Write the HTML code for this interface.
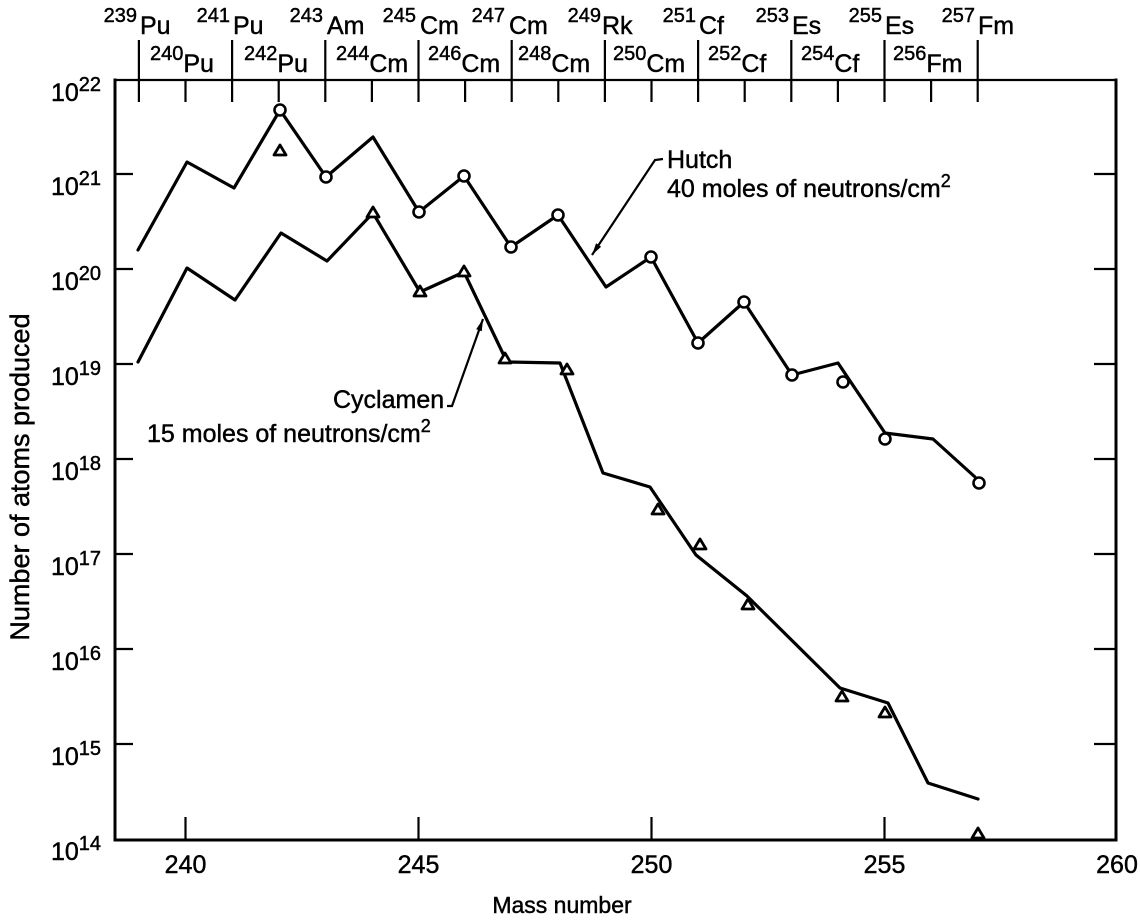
<!DOCTYPE html>
<html><head><meta charset="utf-8"><style>
html,body{margin:0;padding:0;background:#fff}
svg{display:block}
text{font-family:"Liberation Sans",Arial,sans-serif;fill:#000;stroke:#000;stroke-width:0.45px}
</style></head><body>
<svg width="1140" height="923" viewBox="0 0 1140 923" xmlns="http://www.w3.org/2000/svg">
<rect width="1140" height="923" fill="#fff"/>
<!-- axes -->
<g stroke="#000" fill="none" stroke-linecap="square">
<line x1="115" y1="80" x2="1116" y2="80" stroke-width="2.2"/>
<line x1="115" y1="80" x2="115" y2="840" stroke-width="3"/>
<line x1="115" y1="840" x2="1116" y2="840" stroke-width="3"/>
<line x1="1116" y1="80" x2="1116" y2="840" stroke-width="3"/>
</g>
<!-- top ticks and separators -->
<g stroke="#000" stroke-width="2.2">
<line x1="138.9" y1="40" x2="138.9" y2="102"/>
<line x1="185.5" y1="80" x2="185.5" y2="102"/>
<line x1="232.1" y1="40" x2="232.1" y2="102"/>
<line x1="278.7" y1="80" x2="278.7" y2="102"/>
<line x1="325.3" y1="40" x2="325.3" y2="102"/>
<line x1="371.9" y1="80" x2="371.9" y2="102"/>
<line x1="418.5" y1="40" x2="418.5" y2="102"/>
<line x1="465.1" y1="80" x2="465.1" y2="102"/>
<line x1="511.7" y1="40" x2="511.7" y2="102"/>
<line x1="558.3" y1="80" x2="558.3" y2="102"/>
<line x1="604.9" y1="40" x2="604.9" y2="102"/>
<line x1="651.5" y1="80" x2="651.5" y2="102"/>
<line x1="698.1" y1="40" x2="698.1" y2="102"/>
<line x1="744.7" y1="80" x2="744.7" y2="102"/>
<line x1="791.3" y1="40" x2="791.3" y2="102"/>
<line x1="837.9" y1="80" x2="837.9" y2="102"/>
<line x1="884.5" y1="40" x2="884.5" y2="102"/>
<line x1="931.1" y1="80" x2="931.1" y2="102"/>
<line x1="977.7" y1="40" x2="977.7" y2="102"/>
</g>
<!-- left/right decade ticks -->
<g stroke="#000" stroke-width="2.2">
<line x1="115" y1="174" x2="133" y2="174"/><line x1="1094" y1="174" x2="1116" y2="174"/>
<line x1="115" y1="269" x2="133" y2="269"/><line x1="1094" y1="269" x2="1116" y2="269"/>
<line x1="115" y1="364" x2="133" y2="364"/><line x1="1094" y1="364" x2="1116" y2="364"/>
<line x1="115" y1="459" x2="133" y2="459"/><line x1="1094" y1="459" x2="1116" y2="459"/>
<line x1="115" y1="554" x2="133" y2="554"/><line x1="1094" y1="554" x2="1116" y2="554"/>
<line x1="115" y1="649" x2="133" y2="649"/><line x1="1094" y1="649" x2="1116" y2="649"/>
<line x1="115" y1="744" x2="133" y2="744"/><line x1="1094" y1="744" x2="1116" y2="744"/>
</g>
<!-- bottom ticks -->
<g stroke="#000" stroke-width="2.2">
<line x1="185.5" y1="840" x2="185.5" y2="817"/>
<line x1="418.5" y1="840" x2="418.5" y2="817"/>
<line x1="651.5" y1="840" x2="651.5" y2="817"/>
<line x1="884.5" y1="840" x2="884.5" y2="817"/>
</g>
<!-- y tick labels -->
<g font-size="25" text-anchor="end">
<text x="101" y="101">10<tspan font-size="20" dy="-10">22</tspan></text>
<text x="101" y="195">10<tspan font-size="20" dy="-10">21</tspan></text>
<text x="101" y="290">10<tspan font-size="20" dy="-10">20</tspan></text>
<text x="101" y="385">10<tspan font-size="20" dy="-10">19</tspan></text>
<text x="101" y="480">10<tspan font-size="20" dy="-10">18</tspan></text>
<text x="101" y="575">10<tspan font-size="20" dy="-10">17</tspan></text>
<text x="101" y="670">10<tspan font-size="20" dy="-10">16</tspan></text>
<text x="101" y="765">10<tspan font-size="20" dy="-10">15</tspan></text>
<text x="101" y="860">10<tspan font-size="20" dy="-10">14</tspan></text>
</g>
<!-- x tick labels -->
<g font-size="25" text-anchor="middle">
<text x="185.5" y="873">240</text>
<text x="418.5" y="873">245</text>
<text x="651.5" y="873">250</text>
<text x="884.5" y="873">255</text>
<text x="1117" y="873">260</text>
</g>
<text x="562" y="913" font-size="23" text-anchor="middle">Mass number</text>
<text transform="translate(29,477) rotate(-90)" font-size="27" text-anchor="middle">Number of atoms produced</text>
<!-- top labels row 1 (odd) -->
<g font-size="20" text-anchor="end">
<text x="137" y="22">239</text>
<text x="230" y="22">241</text>
<text x="323" y="22">243</text>
<text x="416" y="22">245</text>
<text x="505" y="22">247</text>
<text x="601" y="22">249</text>
<text x="696" y="22">251</text>
<text x="789" y="22">253</text>
<text x="882" y="22">255</text>
<text x="975" y="22">257</text>
</g>
<g font-size="25">
<text x="140" y="34">Pu</text>
<text x="233" y="34">Pu</text>
<text x="327" y="34">Am</text>
<text x="420" y="34">Cm</text>
<text x="509" y="34">Cm</text>
<text x="602" y="34">Rk</text>
<text x="699" y="34">Cf</text>
<text x="792" y="34">Es</text>
<text x="885" y="34">Es</text>
<text x="978" y="34">Fm</text>
</g>
<!-- top labels row 2 (even) -->
<g font-size="20">
<text x="150" y="60">240<tspan font-size="25" dy="12">Pu</tspan></text>
<text x="244" y="60">242<tspan font-size="25" dy="12">Pu</tspan></text>
<text x="336" y="60">244<tspan font-size="25" dy="12">Cm</tspan></text>
<text x="428" y="60">246<tspan font-size="25" dy="12">Cm</tspan></text>
<text x="518" y="60">248<tspan font-size="25" dy="12">Cm</tspan></text>
<text x="613" y="60">250<tspan font-size="25" dy="12">Cm</tspan></text>
<text x="708" y="60">252<tspan font-size="25" dy="12">Cf</tspan></text>
<text x="801" y="60">254<tspan font-size="25" dy="12">Cf</tspan></text>
<text x="893" y="60">256<tspan font-size="25" dy="12">Fm</tspan></text>
</g>
<!-- series -->
<g fill="none" stroke="#000" stroke-width="3.2" stroke-linejoin="round" stroke-linecap="round">
<polyline points="138,250 187,162 234,188 280,110 326,177 373,137 419,212 464,176 511,247 558,215 606,287 651,257 698,343 744,302 792,375 838,363 885,433 933,439 975,477"/>
<polyline points="138,362 187,268 235,300 281,233 327,261 373,213 420,292 464,272 507,362 560,363 603,473 650,487 696,555 747,596 840,688 888,703 928,783 978,799"/>
</g>
<!-- circles -->
<g fill="#fff" stroke="#000" stroke-width="2.6">
<circle cx="280" cy="110" r="5.5"/>
<circle cx="326" cy="177" r="5.5"/>
<circle cx="419" cy="212" r="5.5"/>
<circle cx="464" cy="176" r="5.5"/>
<circle cx="511" cy="247" r="5.5"/>
<circle cx="558" cy="215" r="5.5"/>
<circle cx="651" cy="257" r="5.5"/>
<circle cx="698" cy="343" r="5.5"/>
<circle cx="744" cy="302" r="5.5"/>
<circle cx="792" cy="375" r="5.5"/>
<circle cx="843" cy="382" r="5.5"/>
<circle cx="885" cy="439" r="5.5"/>
<circle cx="979" cy="483" r="5.5"/>
</g>
<!-- triangles -->
<g fill="#fff" stroke="#000" stroke-width="2.8" stroke-linejoin="round">
<path d="M280,145 L286,155 L274,155 Z"/>
<path d="M373,207 L379,217 L367,217 Z"/>
<path d="M420,286 L426,296 L414,296 Z"/>
<path d="M464,266 L470,276 L458,276 Z"/>
<path d="M505,353 L511,363 L499,363 Z"/>
<path d="M567,364 L573,374 L561,374 Z"/>
<path d="M658,504 L664,514 L652,514 Z"/>
<path d="M700,539 L706,549 L694,549 Z"/>
<path d="M748,599 L754,609 L742,609 Z"/>
<path d="M842,691 L848,701 L836,701 Z"/>
<path d="M885,707 L891,717 L879,717 Z"/>
<path d="M978,828 L984,838 L972,838 Z"/>
</g>
<!-- annotations -->
<g fill="none" stroke="#000" stroke-width="2.2">
<polyline points="592,255 655,160 663,159"/>
<polyline points="447,406 452,406 483,319"/>
</g>
<path d="M592,255 L601.1,246.7 L596.1,243.3 Z" fill="#000"/>
<path d="M483,319 L481.8,331.3 L476.2,329.3 Z" fill="#000"/>
<g font-size="25">
<text x="667" y="168">Hutch</text>
<text x="667" y="197">40 moles of neutrons/cm<tspan font-size="18" dy="-10">2</tspan></text>
<text x="333" y="408">Cyclamen</text>
<text x="147" y="442">15 moles of neutrons/cm<tspan font-size="18" dy="-10">2</tspan></text>
</g>
</svg>
</body></html>
